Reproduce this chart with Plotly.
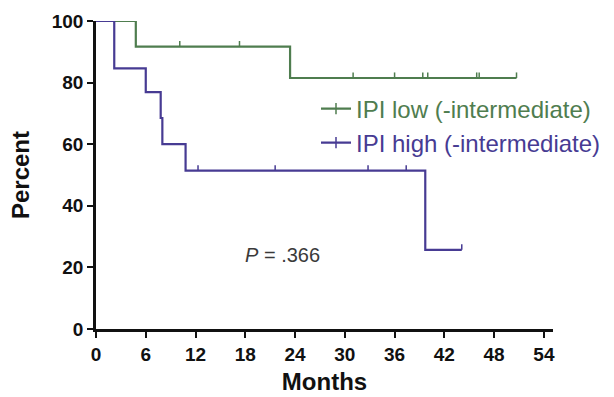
import plotly.graph_objects as go

# Kaplan-Meier step data (months, percent)
low_t = [0, 4.8, 4.8, 23.4, 23.4, 50.7]
low_s = [100, 100, 91.7, 91.7, 81.5, 81.5]
low_cens_t = [10.1, 17.3, 31.0, 36.0, 39.4, 40.0, 45.9, 46.2, 50.7]
low_cens_s = [91.7, 91.7, 81.5, 81.5, 81.5, 81.5, 81.5, 81.5, 81.5]

high_t = [0, 2.2, 2.2, 6.0, 6.0, 7.8, 7.8, 8.0, 8.0, 10.8, 10.8, 39.7, 39.7, 44.1]
high_s = [100, 100, 84.6, 84.6, 76.9, 76.9, 68.5, 68.5, 60.0, 60.0, 51.4, 51.4, 25.7, 25.7]
high_cens_t = [12.3, 21.6, 32.8, 37.4, 44.1]
high_cens_s = [51.4, 51.4, 51.4, 51.4, 25.7]

x_ticks = [0, 6, 12, 18, 24, 30, 36, 42, 48, 54]
y_ticks = [0, 20, 40, 60, 80, 100]

GREEN = "#4f7d4f"
BLUE = "#473b93"
FONT = "Liberation Sans, Arial, sans-serif"

fig = go.Figure()

series = [
    (low_t, low_s, low_cens_t, low_cens_s, GREEN, "IPI low (-intermediate)", "legend"),
    (high_t, high_s, high_cens_t, high_cens_s, BLUE, "IPI high (-intermediate)", "legend2"),
]
for t, s, ct, cs, col, name, lg in series:
    fig.add_trace(go.Scatter(x=t, y=s, mode="lines", line=dict(color=col, width=2.2),
                             showlegend=False, cliponaxis=False, hoverinfo="skip"))
    fig.add_trace(go.Scatter(x=ct, y=cs, mode="markers",
                             marker=dict(size=0.1, color=col, opacity=0),
                             error_y=dict(type="data", symmetric=False, array=[1.8] * len(ct),
                                          arrayminus=[0] * len(ct), color=col, thickness=1.5, width=0),
                             showlegend=False, cliponaxis=False, hoverinfo="skip"))
    fig.add_trace(go.Scatter(x=[None], y=[None], mode="lines+markers", name=name, legend=lg,
                             line=dict(color=col, width=2.2),
                             marker=dict(symbol="line-ns-open", size=8, color=col,
                                         line=dict(color=col, width=1.5))))

fig.add_annotation(x=17.7, y=24, xref="x", yref="y", xanchor="left", yanchor="middle",
                   text="<i>P</i> = .366", showarrow=False,
                   font=dict(family=FONT, size=20, color="#3a3a3a"))

lx = (316 - 96) / 457.0
fig.update_layout(
    width=614, height=397,
    margin=dict(l=96, r=61, t=21, b=68, autoexpand=False),
    paper_bgcolor="white", plot_bgcolor="white",
    font=dict(family=FONT, color="black"),
    legend=dict(x=lx, y=(329 - 109) / 308.0, xanchor="left", yanchor="middle",
                bgcolor="rgba(0,0,0,0)", font=dict(family=FONT, size=24, color=GREEN)),
    legend2=dict(x=lx, y=(329 - 143) / 308.0, xanchor="left", yanchor="middle",
                 bgcolor="rgba(0,0,0,0)", font=dict(family=FONT, size=24, color=BLUE)),
    showlegend=True,
)
fig.update_xaxes(range=[0, 55.1], tickvals=x_ticks, ticktext=["<b>%d</b>" % v for v in x_ticks],
                 showline=True, linecolor="#111", linewidth=2.5, ticks="outside",
                 ticklen=6, tickwidth=2, tickcolor="#111", showgrid=False, zeroline=False,
                 tickfont=dict(family=FONT, size=19, color="#111"),
                 title=dict(text="<b>Months</b>", font=dict(family=FONT, size=24, color="#111"), standoff=10))
fig.update_yaxes(range=[0, 100], tickvals=y_ticks, ticktext=["<b>%d</b>" % v for v in y_ticks],
                 showline=True, linecolor="#111", linewidth=2.5, ticks="outside",
                 ticklen=6, tickwidth=2, tickcolor="#111", showgrid=False, zeroline=False,
                 tickfont=dict(family=FONT, size=19, color="#111"),
                 title=dict(text="<b>Percent</b>", font=dict(family=FONT, size=24, color="#111"), standoff=16))

fig.write_html("out.html")
